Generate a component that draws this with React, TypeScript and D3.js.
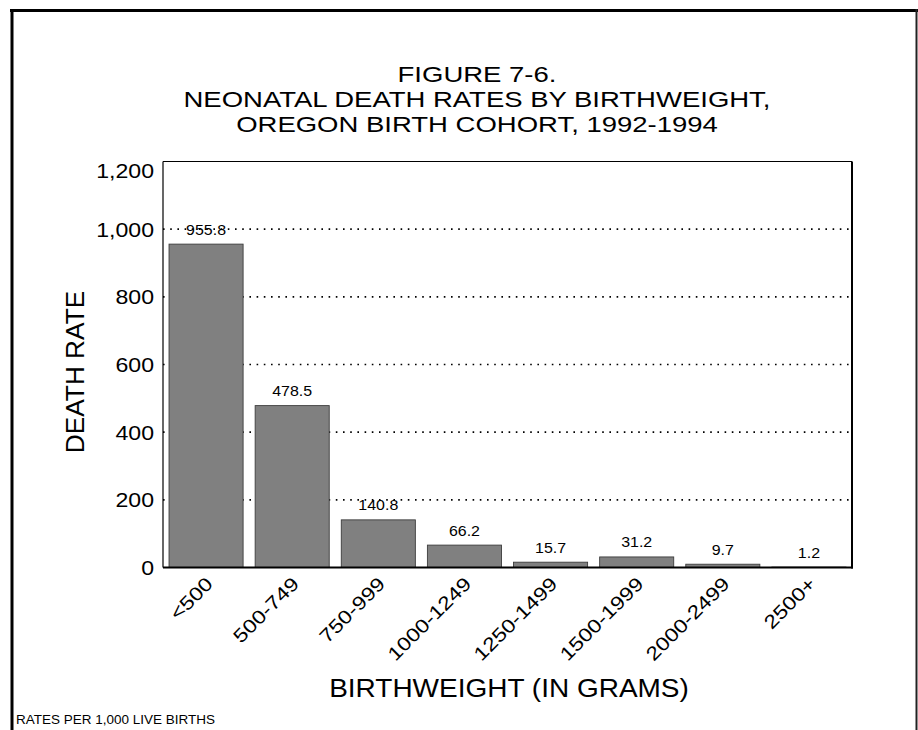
import * as d3 from "d3";

const CATEGORIES = ["<500", "500-749", "750-999", "1000-1249", "1250-1499", "1500-1999", "2000-2499", "2500+"];
const RATES = [955.8, 478.5, 140.8, 66.2, 15.7, 31.2, 9.7, 1.2];
const Y_TICKS = [0, 200, 400, 600, 800, 1000, 1200];
const TITLE_LINES = [
  "FIGURE 7-6.",
  "NEONATAL DEATH RATES BY BIRTHWEIGHT,",
  "OREGON BIRTH COHORT, 1992-1994",
];

const W = 918;
const H = 730;
const plot = { left: 163, right: 852, top: 161.5, bottom: 567.5 };
const FONT = "'Liberation Sans', Arial, Helvetica, sans-serif";

export default function App() {
  const x = d3
    .scaleBand<string>()
    .domain(CATEGORIES)
    .range([plot.left, plot.right])
    .paddingInner(0.14)
    .paddingOuter(0.07);

  const y = d3.scaleLinear().domain([0, 1200]).range([plot.bottom, plot.top]);
  const fmt = d3.format(",");

  return (
    <svg
      width={W}
      height={H}
      style={{ position: "absolute", left: 0, top: 0, background: "#fff" }}
      fontFamily={FONT}
    >
      {/* outer frame (top, left, right only) */}
      <line x1={10} x2={W} y1={10.5} y2={10.5} stroke="#000" strokeWidth={3} />
      <line x1={12} x2={12} y1={9} y2={H} stroke="#000" strokeWidth={3} />
      <line x1={916.5} x2={916.5} y1={9} y2={H} stroke="#222" strokeWidth={2} />

      {/* title */}
      {TITLE_LINES.map((t, i) => (
        <text
          key={t}
          transform={`translate(477,${82 + i * 25}) scale(1.25,1)`}
          textAnchor="middle"
          fontSize={22}
          fill="#000"
        >
          {t}
        </text>
      ))}

      {/* gridlines */}
      {Y_TICKS.filter((v) => v > 0 && v < 1200).map((v) => (
        <line
          key={v}
          x1={plot.left}
          x2={plot.right}
          y1={y(v)}
          y2={y(v)}
          stroke="#000"
          strokeWidth={1.6}
          strokeDasharray="1.6 5.6"
        />
      ))}

      {/* bars */}
      {RATES.map((v, i) => (
        <rect
          key={CATEGORIES[i]}
          x={x(CATEGORIES[i])}
          y={y(v)}
          width={x.bandwidth()}
          height={Math.max(0, y(0) - y(v))}
          fill="#808080"
          stroke="#3c3c3c"
          strokeWidth={0.9}
        />
      ))}

      {/* value labels */}
      {RATES.map((v, i) => (
        <text
          key={"v" + i}
          transform={`translate(${(x(CATEGORIES[i]) ?? 0) + x.bandwidth() / 2},${y(v) - 9.5}) scale(1.14,1)`}
          textAnchor="middle"
          fontSize={14}
          fill="#000"
        >
          {v.toFixed(1)}
        </text>
      ))}

      {/* plot frame */}
      <line x1={plot.left} x2={plot.right} y1={plot.top} y2={plot.top} stroke="#000" strokeWidth={1.2} />
      <line x1={plot.left} x2={plot.left} y1={plot.top} y2={plot.bottom} stroke="#000" strokeWidth={1.2} />
      <line x1={plot.right} x2={plot.right} y1={plot.top} y2={plot.bottom + 1} stroke="#000" strokeWidth={2} />
      <line x1={plot.left} x2={plot.right + 1} y1={plot.bottom} y2={plot.bottom} stroke="#000" strokeWidth={2} />

      {/* y tick labels */}
      {Y_TICKS.map((v) => (
        <text
          key={"t" + v}
          transform={`translate(154,${y(v) + 7.5 + (v === 1200 ? 8.5 : 0)}) scale(1.1,1)`}
          textAnchor="end"
          fontSize={21}
          fill="#000"
        >
          {fmt(v)}
        </text>
      ))}

      {/* x tick labels */}
      {CATEGORIES.map((c) => (
        <text
          key={"x" + c}
          transform={`translate(${(x(c) ?? 0) + x.bandwidth() / 2 + 8},585) rotate(-45) scale(1.2,1)`}
          textAnchor="end"
          fontSize={19}
          fill="#000"
        >
          {c}
        </text>
      ))}

      {/* axis titles */}
      <text
        transform="translate(84,372) rotate(-90) scale(1.05,1)"
        textAnchor="middle"
        fontSize={25}
        fill="#000"
      >
        DEATH RATE
      </text>
      <text transform="translate(509,697) scale(1.12,1)" textAnchor="middle" fontSize={25} fill="#000">
        BIRTHWEIGHT (IN GRAMS)
      </text>

      {/* footnote */}
      <text transform="translate(16,724) scale(1.08,1)" fontSize={12.5} fill="#000">
        RATES PER 1,000 LIVE BIRTHS
      </text>
    </svg>
  );
}
